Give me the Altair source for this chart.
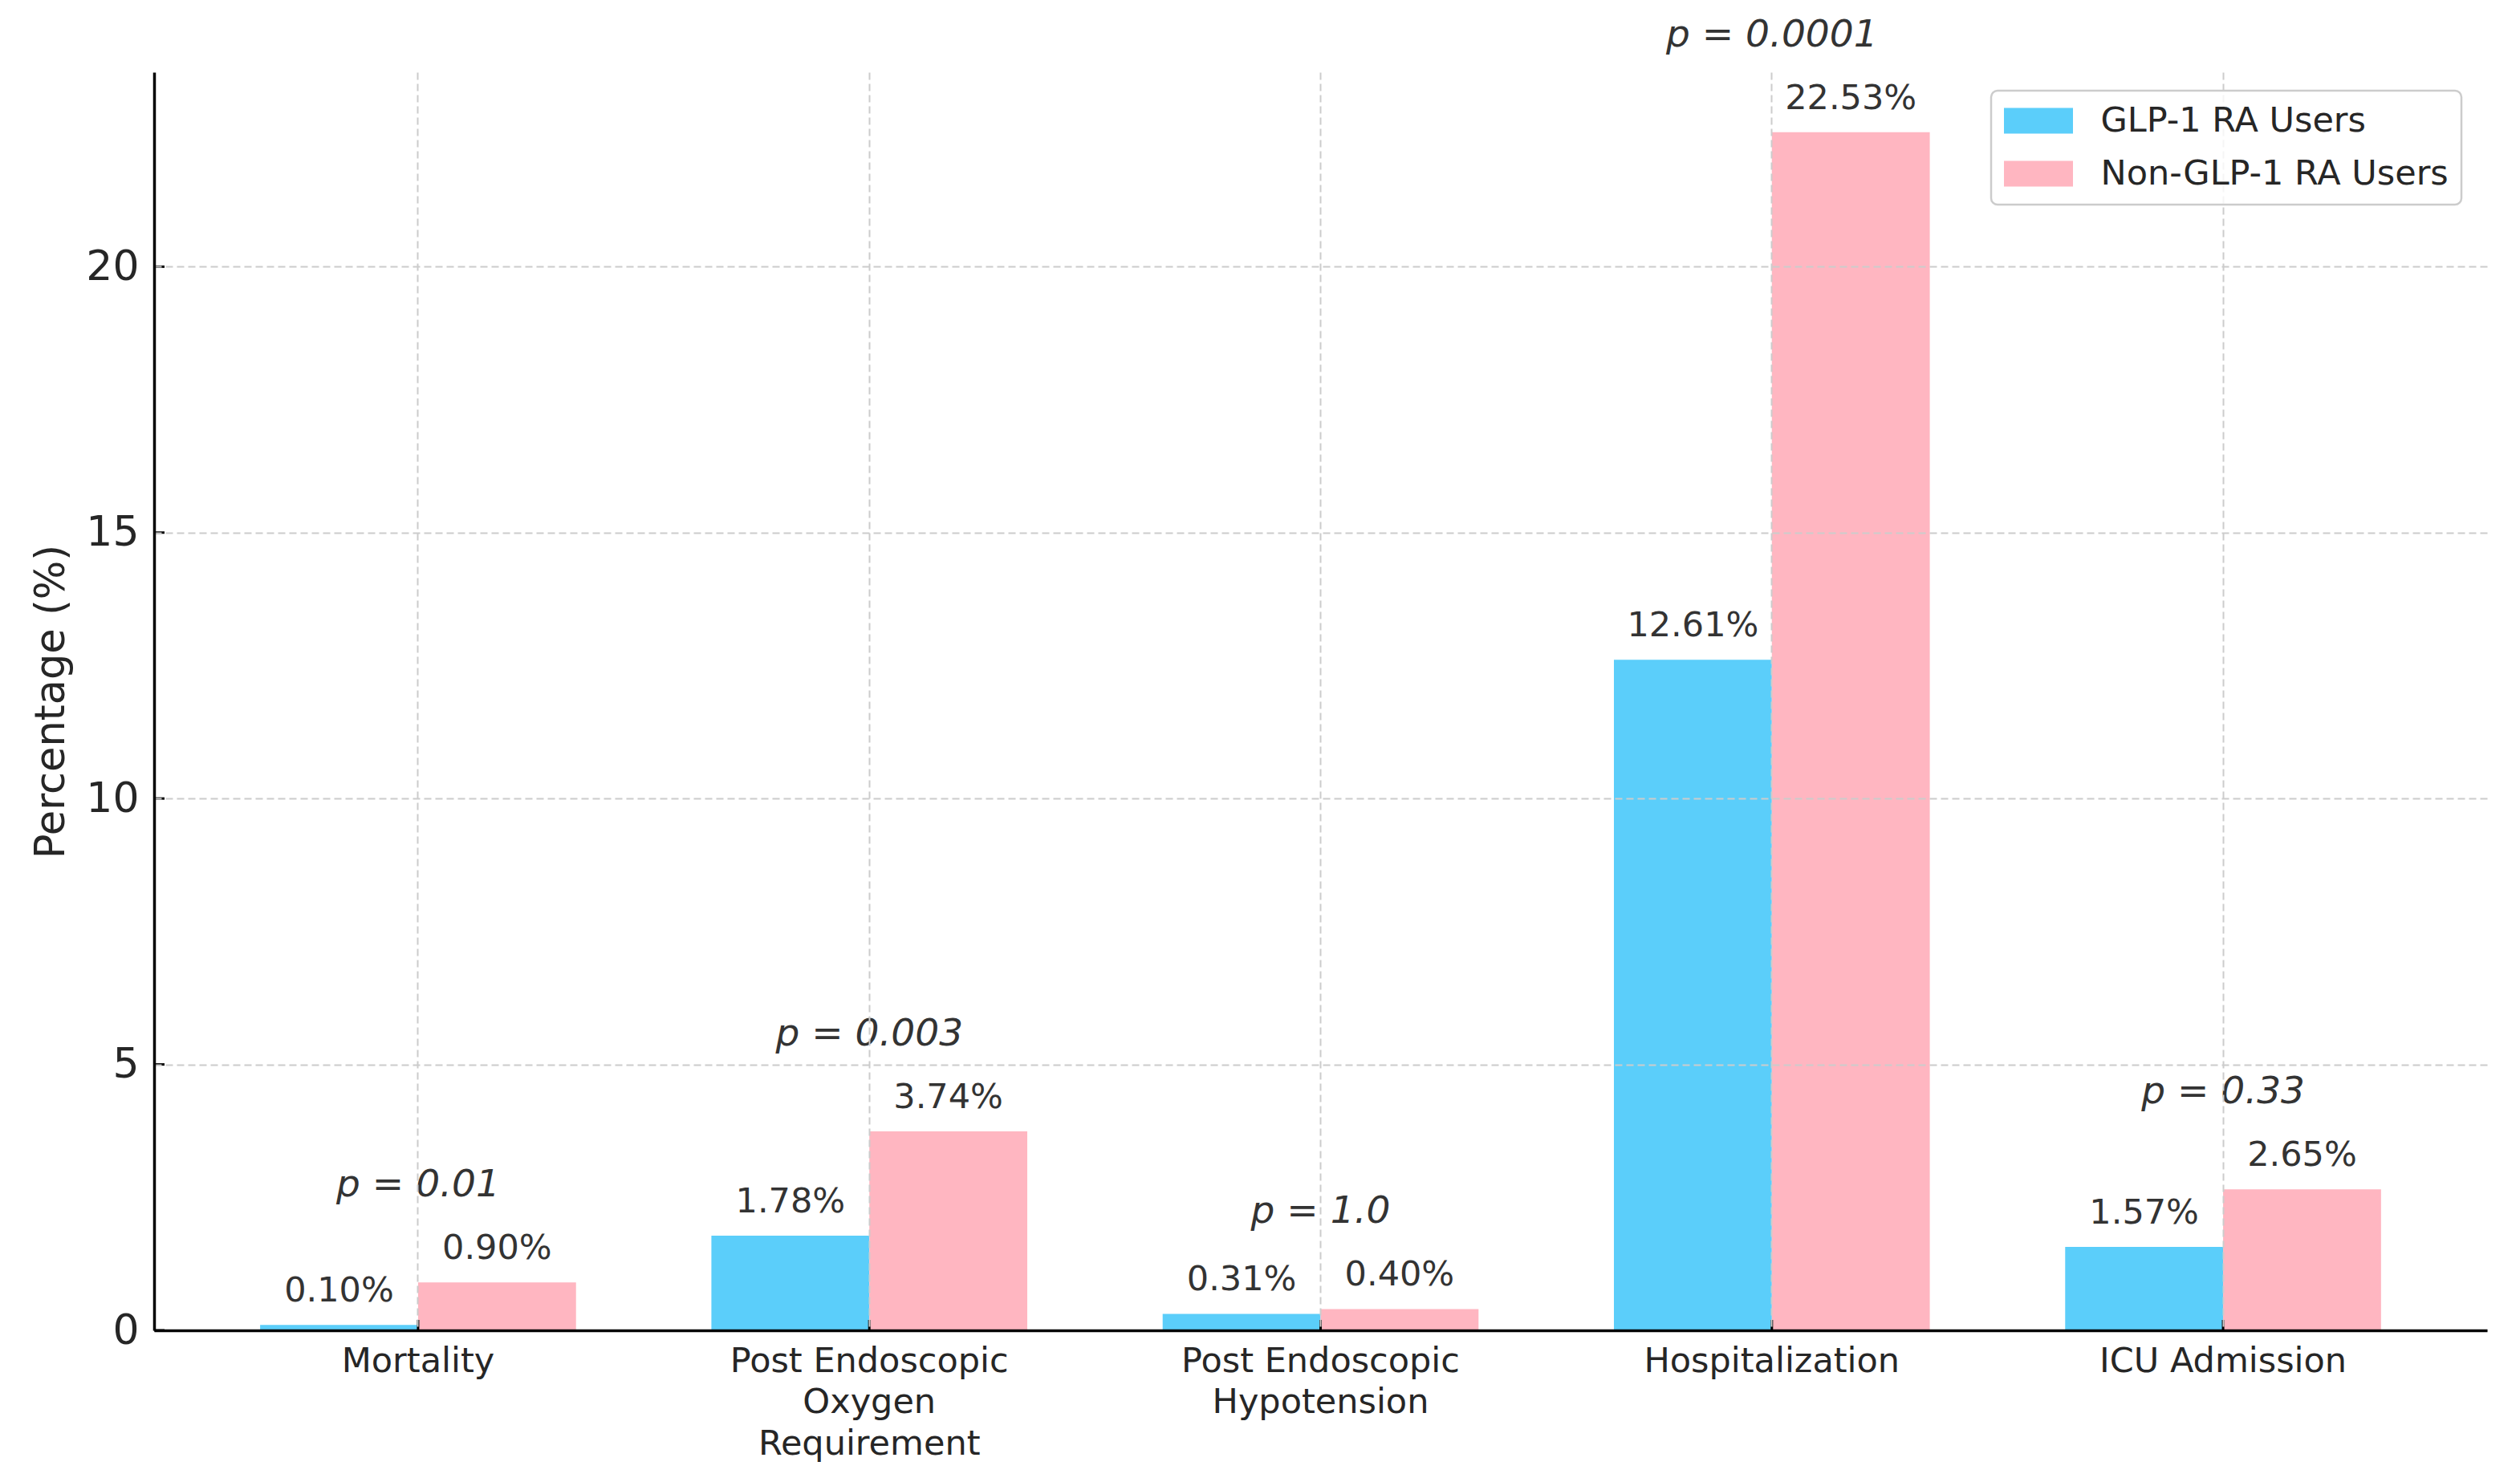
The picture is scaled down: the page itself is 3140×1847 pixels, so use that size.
import altair as alt
import pandas as pd

# ---- data ----
categories = ["Mortality", "Post Endoscopic Oxygen Requirement", "Post Endoscopic Hypotension",
              "Hospitalization", "ICU Admission"]
tick_labels = ["Mortality", "Post Endoscopic|Oxygen|Requirement", "Post Endoscopic|Hypotension",
               "Hospitalization", "ICU Admission"]
groups = ["GLP-1 RA Users", "Non-GLP-1 RA Users"]
glp_values = [0.10, 1.78, 0.31, 12.61, 1.57]
non_glp_values = [0.90, 3.74, 0.40, 22.53, 2.65]
p_labels = ["p = 0.01", "p = 0.003", "p = 1.0", "p = 0.0001", "p = 0.33"]
y_ticks = [0, 5, 10, 15, 20]
colors = ["#5BCEFA", "#FFB6C1"]

rows = []
for c, a, b in zip(categories, glp_values, non_glp_values):
    rows.append({"category": c, "group": groups[0], "value": a})
    rows.append({"category": c, "group": groups[1], "value": b})
bars_df = pd.DataFrame(rows)

p_df = pd.DataFrame({
    "category": categories,
    "p": p_labels,
    "value": [max(a, b) for a, b in zip(glp_values, non_glp_values)],
})
ytick_df = pd.DataFrame({"value": y_ticks})

W, H = 2907, 1568
FONT = "DejaVu Sans"
GRID = dict(grid=True, gridColor="#cccccc", gridDash=[9, 5], gridWidth=2)

# nested conditional mapping category -> wrapped label
expr = "datum.value"
for c, t in reversed(list(zip(categories, tick_labels))):
    expr = "datum.value == '{c}' ? '{t}' : ({e})".format(c=c, t=t, e=expr)
label_expr = "split({e}, '|')".format(e=expr)

x_axis = alt.Axis(
    labelExpr=label_expr, labelFont=FONT, labelFontSize=43, labelColor="#262626",
    labelAngle=0, labelPadding=51, labelBaseline="alphabetic", labelLineHeight=51.5,
    labelLimit=1000, labelAlign="center", ticks=False, tickSize=0,
    domainColor="black", domainWidth=3.5, bandPosition=0.5, zindex=1, **GRID,
)
y_axis = alt.Axis(
    values=y_ticks, labelFont=FONT, labelFontSize=52, labelColor="#262626",
    labelPadding=19, ticks=False, tickSize=0, domainColor="black", domainWidth=3.5,
    zindex=1, title="Percentage (%)", titleFont=FONT, titleFontSize=51,
    titleFontWeight="normal", titleColor="#262626", titleX=-113, titleY=H / 2,
    titleBaseline="alphabetic", titleAlign="center", titleAngle=270, **GRID,
)

x_enc = alt.X("category:N", sort=categories, title=None, axis=x_axis,
              scale=alt.Scale(paddingInner=0.3, paddingOuter=0.235))
y_enc = alt.Y("value:Q", axis=y_axis, scale=alt.Scale(domain=[0, 23.6565], nice=False))
xoff = alt.XOffset("group:N", sort=groups, scale=alt.Scale(paddingInner=0, paddingOuter=0))

bars = alt.Chart(bars_df).mark_bar(opacity=1).encode(
    x=x_enc, y=y_enc, xOffset=xoff,
    color=alt.Color("group:N", sort=groups,
                    scale=alt.Scale(domain=groups, range=colors),
                    legend=alt.Legend(
                        title=None, orient="none", legendX=2289, legendY=23,
                        symbolType="M-2,-0.744L2,-0.744L2,0.744L-2,0.744Z",
                        symbolSize=1849, symbolStrokeWidth=0, symbolOpacity=1,
                        symbolOffset=21.5,
                        labelFont=FONT, labelFontSize=43, labelColor="#262626",
                        labelOffset=56, labelLimit=1000, padding=16, rowPadding=22,
                        strokeColor="#cccccc", fillColor="rgba(255,255,255,0.8)",
                        cornerRadius=8, zindex=2)),
)

value_text = alt.Chart(bars_df).transform_calculate(
    label="format(datum.value, '.2f') + '%'"
).mark_text(font=FONT, fontSize=43, color="#333333", baseline="alphabetic",
            align="center", dy=-29).encode(
    x=x_enc, y=y_enc, xOffset=xoff, text="label:N",
)

p_text = alt.Chart(p_df).mark_text(font=FONT, fontSize=47, fontStyle="italic",
                                   color="#333333", baseline="alphabetic",
                                   align="center", dy=-107).encode(
    x=x_enc, y=y_enc, text="p:N",
)

x_ticks = alt.Chart(p_df).mark_rule(color="black", strokeWidth=3).encode(
    x=x_enc, y=alt.value(H), y2=alt.value(H - 13),
)
y_tick_rules = alt.Chart(ytick_df).mark_rule(color="black", strokeWidth=3).encode(
    y=y_enc, x=alt.value(0), x2=alt.value(13),
)

chart = alt.layer(bars, value_text, p_text, x_ticks, y_tick_rules).properties(
    width=W, height=H,
    autosize=alt.AutoSizeParams(type="none"),
    padding={"left": 184, "top": 82, "right": 30, "bottom": 170},
    background="white",
).configure_view(strokeWidth=0).configure_legend(strokeWidth=2.5)

chart.save("out.html", embed_options={"renderer": "svg", "actions": False})
